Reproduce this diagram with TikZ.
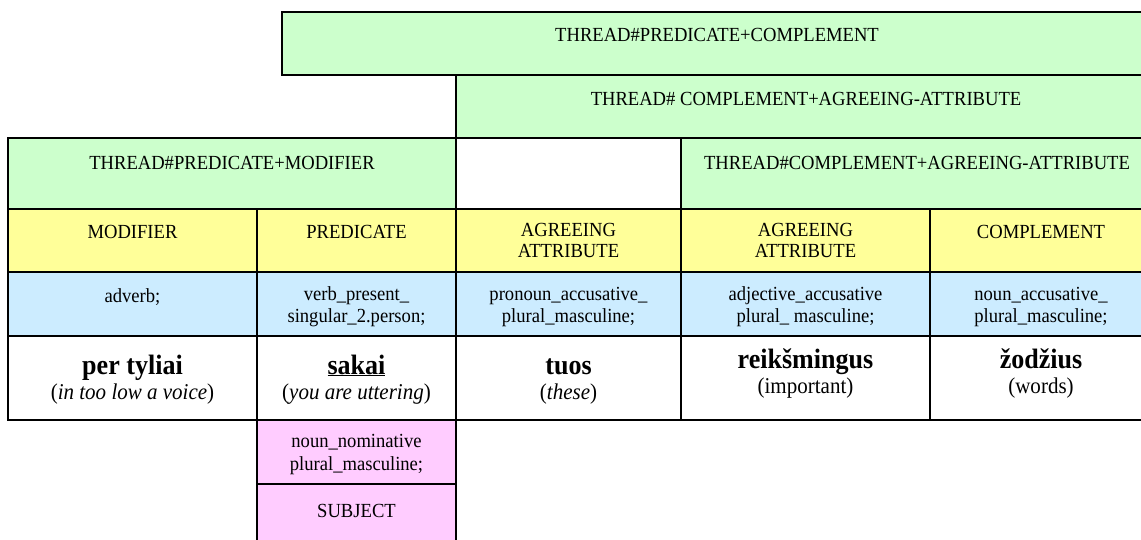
\documentclass[tikz,border=0pt]{standalone}
\usepackage{fontspec}
\setmainfont{Liberation Serif}[FakeStretch=0.93]
\definecolor{threadgreen}{HTML}{CCFFCC}
\definecolor{roleyellow}{HTML}{FFFF99}
\definecolor{morphblue}{HTML}{CCECFF}
\definecolor{subjpink}{HTML}{FFCCFF}
\begin{document}
\begin{tikzpicture}[x=1pt,y=-1pt,
  cell/.style={draw=black,line width=1.6pt},
  lbl/.style={anchor=base,inner sep=0pt,font=\fontsize{20}{22}\selectfont},
  word/.style={anchor=base,inner sep=0pt,font=\fontsize{28}{32}\selectfont\bfseries},
  gloss/.style={anchor=base,inner sep=0pt,font=\fontsize{22.6}{25}\selectfont}]
\useasboundingbox (0,0) rectangle (1141,540);
\clip (0,0) rectangle (1141,540);

% thread rows
\path[cell,fill=threadgreen] (282,12) rectangle (1160,75);
\path[cell,fill=threadgreen] (456,75) rectangle (1160,138);
\path[cell,fill=threadgreen] (8,138) rectangle (456,209);
\path[cell,fill=white] (456,138) rectangle (681,209);
\path[cell,fill=threadgreen] (681,138) rectangle (1160,209);

% syntactic roles, morphology and words
\foreach \xa/\xb in {8/257,257/456,456/681,681/930,930/1160}{
  \path[cell,fill=roleyellow] (\xa,209) rectangle (\xb,272);
  \path[cell,fill=morphblue] (\xa,272) rectangle (\xb,336);
  \path[cell,fill=white] (\xa,336) rectangle (\xb,420);
}

% subject column
\path[cell,fill=subjpink] (257,420) rectangle (456,484);
\path[cell,fill=subjpink] (257,484) rectangle (456,560);

% thread labels
\node[lbl] (t1) at (717,42) {THREAD\#PREDICATE+COMPLEMENT};
\node[lbl] (t2) at (806,106) {THREAD\# COMPLEMENT+AGREEING-ATTRIBUTE};
\node[lbl] (t3) at (232,170) {THREAD\#PREDICATE+MODIFIER};
\node[lbl] (t4) at (917,170) {THREAD\#COMPLEMENT+AGREEING-ATTRIBUTE};

% role labels
\node[lbl] (r1) at (132.5,239) {MODIFIER};
\node[lbl] (r2) at (356.5,239) {PREDICATE};
\node[lbl] (r3a) at (568.5,237) {AGREEING};
\node[lbl] (r3b) at (568.5,258) {ATTRIBUTE};
\node[lbl] (r4a) at (805.5,237) {AGREEING};
\node[lbl] (r4b) at (805.5,258) {ATTRIBUTE};
\node[lbl] (r5) at (1041,239) {COMPLEMENT};

% morphology labels
\node[lbl] (m1) at (132.5,302) {adverb;};
\node[lbl] (m2a) at (356.5,300) {verb\_present\_};
\node[lbl] (m2b) at (356.5,322) {singular\_2.person;};
\node[lbl] (m3a) at (568.5,300) {pronoun\_accusative\_};
\node[lbl] (m3b) at (568.5,322) {plural\_masculine;};
\node[lbl] (m4a) at (805.5,300) {adjective\_accusative};
\node[lbl] (m4b) at (805.5,322) {plural\_ masculine;};
\node[lbl] (m5a) at (1041,300) {noun\_accusative\_};
\node[lbl] (m5b) at (1041,322) {plural\_masculine;};

% words with glosses
\node[word] (w1) at (132.5,374) {per tyliai};
\node[gloss] (g1) at (132.5,399) {(\textit{in too low a voice})};
\node[word] (w2) at (356.5,374) {\underline{sakai}};
\node[gloss] (g2) at (356.5,399) {(\textit{you are uttering})};
\node[word] (w3) at (568.5,374) {tuos};
\node[gloss] (g3) at (568.5,399) {(\textit{these})};
\node[word] (w4) at (805.5,368) {reikšmingus};
\node[gloss] (g4) at (805.5,393) {(important)};
\node[word] (w5) at (1041,368) {žodžius};
\node[gloss] (g5) at (1041,393) {(words)};

% subject labels
\node[lbl] (s1a) at (356.5,447) {noun\_nominative};
\node[lbl] (s1b) at (356.5,470) {plural\_masculine;};
\node[lbl] (s2) at (356.5,517) {SUBJECT};
\end{tikzpicture}
\end{document}
